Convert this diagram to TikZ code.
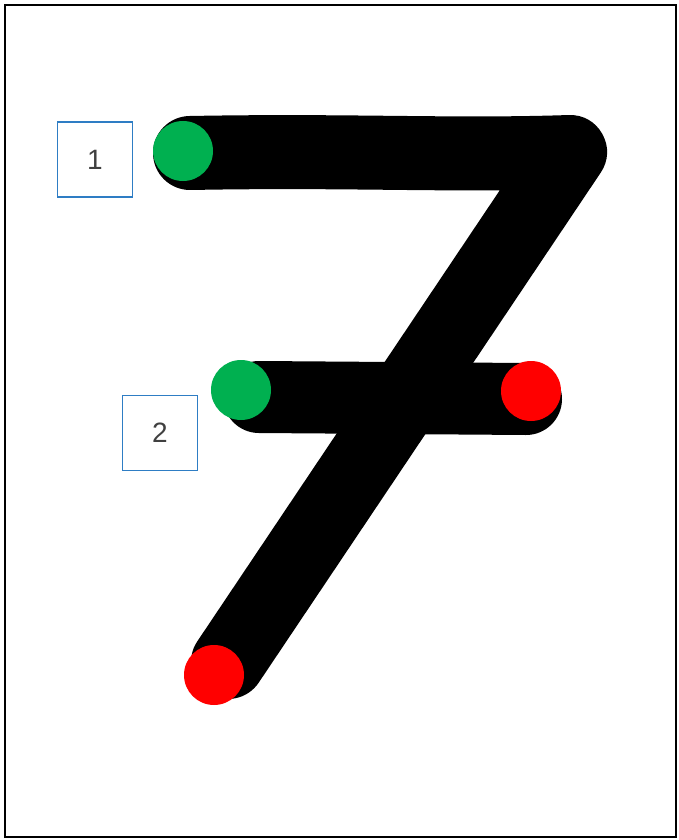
\documentclass[tikz,border=0pt]{standalone}
\usepackage{fontspec}
\setmainfont{Liberation Sans}
\begin{document}
\begin{tikzpicture}[x=1pt,y=-1pt,
  strokeline/.style={line width=74pt,line cap=round,line join=round,black},
  startdot/.style={circle,fill=green!60!black,fill=startgreen,minimum size=60pt,inner sep=0pt},
  enddot/.style={circle,fill=red,minimum size=60pt,inner sep=0pt},
  labelbox/.style={draw=boxblue,line width=1.5pt,minimum width=75pt,minimum height=75pt,inner sep=0pt,text=textgray,font=\fontsize{28}{28}\selectfont}]
\definecolor{startgreen}{RGB}{0,176,80}
\definecolor{boxblue}{RGB}{46,125,196}
\definecolor{textgray}{RGB}{64,64,64}
\useasboundingbox (0,0) rectangle (678,840);
\draw[line width=2pt] (5,5) rectangle (676,837);
% stroke 1
\coordinate (s1a) at (190,153);
\coordinate (s1b) at (570,152);
\coordinate (s1c) at (228,662);
\draw[strokeline] (s1a) .. controls (350,150) and (450,156) .. (s1b) -- (s1c);
% stroke 2
\coordinate (s2a) at (259,397);
\coordinate (s2b) at (526,399);
\draw[line width=72pt,line cap=round,black] (s2a) -- (s2b);
% dots
\node[startdot] (g1) at (183,151) {};
\node[startdot] (g2) at (241,390) {};
\node[enddot] (r1) at (531,391) {};
\node[enddot] (r2) at (214,675) {};
% labels
\node[labelbox] (l1) at (95,159.5) {1};
\node[labelbox] (l2) at (160,433) {2};
\end{tikzpicture}
\end{document}
